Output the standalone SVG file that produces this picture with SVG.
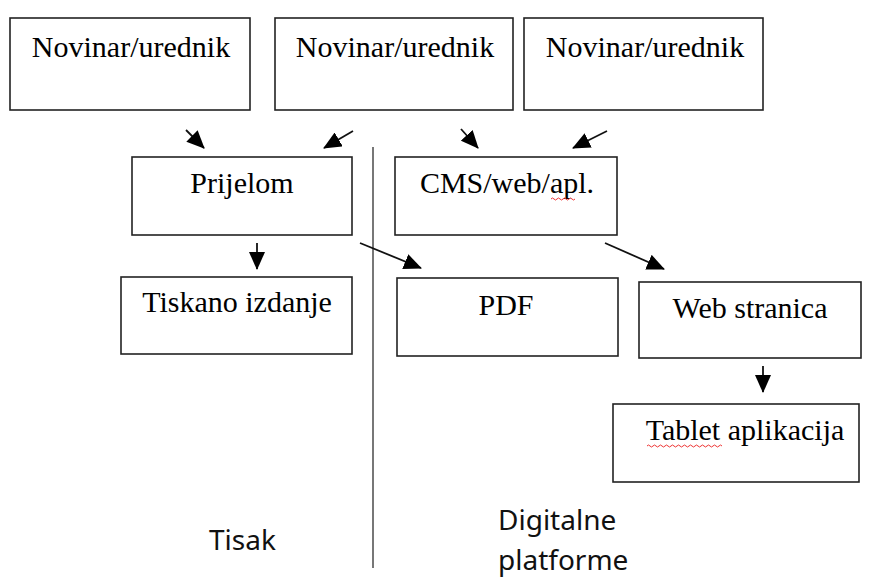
<svg xmlns="http://www.w3.org/2000/svg" width="869" height="577" viewBox="0 0 869 577">
<style>
.box{fill:#fff;stroke:#222;stroke-width:1.6}
.t{font-family:"Liberation Serif","Times New Roman",serif;font-size:30px;fill:#000;text-anchor:middle}
.s{font-family:"Noto Sans","Open Sans",sans-serif;font-size:28px;fill:#111}
.c{stroke:#111;stroke-width:1.8;fill:none;marker-end:url(#ah)}
.sq{stroke:#e33;stroke-width:1;fill:none}
</style>
<defs>
<marker id="ah" markerUnits="userSpaceOnUse" markerWidth="20" markerHeight="16" refX="17" refY="8" orient="auto">
<path d="M0,0 L18,8 L0,16 Z" fill="#000"/>
</marker>
</defs>
<rect width="869" height="577" fill="#fff"/>
<g id="n1"><rect class="box" x="10" y="18" width="240" height="92"/><text class="t" x="131" y="57">Novinar/urednik</text></g>
<g id="n2"><rect class="box" x="275" y="18" width="238" height="92"/><text class="t" x="395" y="57">Novinar/urednik</text></g>
<g id="n3"><rect class="box" x="524" y="18" width="239" height="92"/><text class="t" x="645" y="57">Novinar/urednik</text></g>
<g id="prijelom"><rect class="box" x="132" y="157" width="220" height="78"/><text class="t" x="242" y="193">Prijelom</text></g>
<g id="cms"><rect class="box" x="395" y="157" width="222" height="78"/><text class="t" x="507" y="193">CMS/web/apl.</text><path class="sq" d="M551,199 q1.5,-2 3,0 t3,0 t3,0 t3,0 t3,0 t3,0 t3,0 t3,0"/></g>
<g id="tiskano"><rect class="box" x="121" y="277" width="231" height="77"/><text class="t" x="237" y="312">Tiskano izdanje</text></g>
<g id="pdf"><rect class="box" x="397" y="278" width="221" height="78"/><text class="t" x="506" y="315">PDF</text></g>
<g id="web"><rect class="box" x="639" y="282" width="222" height="76"/><text class="t" x="750" y="318">Web stranica</text></g>
<g id="tablet"><rect class="box" x="613" y="404" width="246" height="78"/><text class="t" x="745" y="440">Tablet aplikacija</text><path class="sq" d="M647,446 q1.5,-2 3,0 t3,0 t3,0 t3,0 t3,0 t3,0 t3,0 t3,0 t3,0 t3,0 t3,0 t3,0 t3,0 t3,0 t3,0 t3,0 t3,0 t3,0 t3,0 t3,0 t3,0 t3,0 t3,0 t3,0 t3,0"/></g>
<g id="divider"><line x1="373" y1="147" x2="373" y2="568" stroke="#777" stroke-width="2"/></g>
<g id="connectors">
<line class="c" x1="186" y1="130" x2="204" y2="148"/>
<line class="c" x1="353" y1="131" x2="324" y2="148"/>
<line class="c" x1="461" y1="129" x2="478" y2="148"/>
<line class="c" x1="607" y1="131" x2="573" y2="148"/>
<line class="c" x1="257" y1="243" x2="257" y2="269"/>
<line class="c" x1="360" y1="243" x2="421" y2="268"/>
<line class="c" x1="605" y1="243" x2="664" y2="269"/>
<line class="c" x1="763" y1="366" x2="763" y2="392"/>
</g>
<g id="labels">
<text class="s" x="209" y="550">Tisak</text>
<text class="s" x="498" y="530">Digitalne</text>
<text class="s" x="498" y="570">platforme</text>
</g>
</svg>
